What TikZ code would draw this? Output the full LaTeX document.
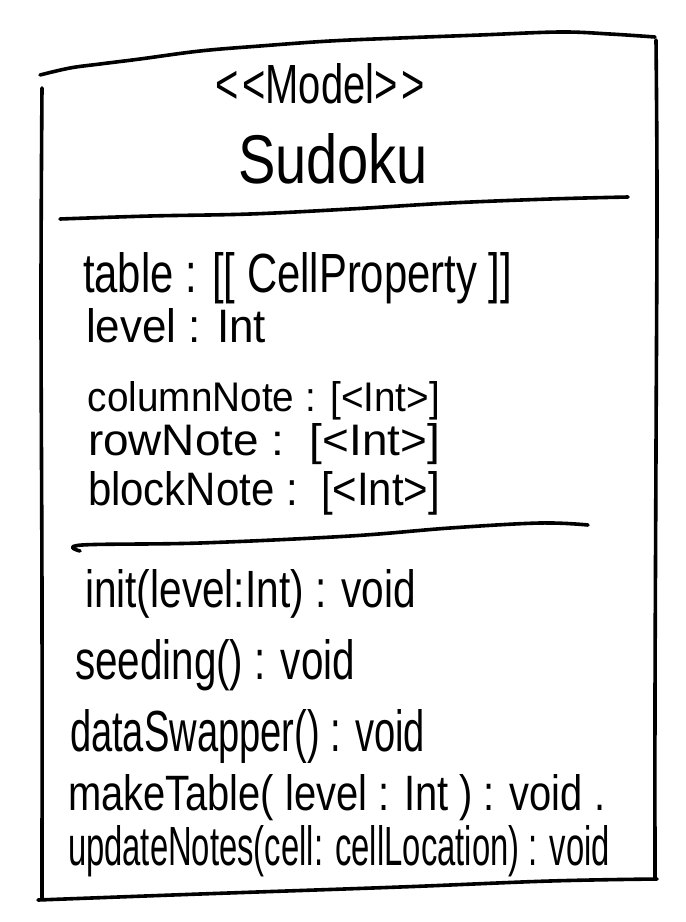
\documentclass[tikz,border=0pt]{standalone}
\usepackage{fontspec}
\usepackage{graphicx}
\setmainfont{Liberation Sans}
\begin{document}
\begin{tikzpicture}[x=1pt,y=-1pt,
  ink/.style={line width=3.6pt, line cap=round, line join=round, black},
  txt/.style={anchor=base west, inner sep=0pt, outer sep=0pt}]
\useasboundingbox[fill=white] (0,0) rectangle (686,922);

% class box outline (hand-drawn strokes)
\draw[ink] plot[smooth, tension=0.6] coordinates {(40,75) (70,68) (100,64) (140,59) (200,51) (260,46) (330,41) (400,38) (480,35) (560,32) (610,34) (655,37)};
\draw[ink] plot[smooth, tension=0.6] coordinates {(656,40) (657,200) (656,450) (655,700) (655,878)};
\draw[ink] plot[smooth, tension=0.6] coordinates {(42,88) (41,300) (42,600) (42,898)};
\draw[ink] plot[smooth, tension=0.6] coordinates {(38,900) (200,894) (400,887) (550,881) (657,879)};

% compartment separators
\draw[ink] plot[smooth, tension=0.6] coordinates {(60,219) (150,216) (250,214) (350,209) (450,203) (550,199) (628,197)};
\draw[ink] plot[smooth, tension=0.6] coordinates {(80,551) (82,545) (200,543) (350,536) (450,528) (540,523) (588,525)};

% name compartment
\node[txt] (stereo) at (215,103) {\resizebox{210pt}{40pt}{<\kern1pt<Model>\kern1pt>}};
\node[txt] (name) at (238,183) {\resizebox{190pt}{50pt}{Sudoku}};

% attributes
\node[txt] (a1) at (83,292) {\resizebox{429pt}{40pt}{table : [[ CellProperty ]]}};
\node[txt] (a2) at (86,342) {\resizebox{180pt}{34pt}{level : Int}};
\node[txt] (a3) at (88,411) {\resizebox{352pt}{30pt}{columnNote : [<Int>]}};
\node[txt] (a4) at (88,455) {\resizebox{352pt}{32pt}{rowNote :\ \ [<Int>]}};
\node[txt] (a5) at (88,505) {\resizebox{352pt}{34pt}{blockNote :\ \ [<Int>]}};

% operations
\node[txt] (m1) at (85,607) {\resizebox{331pt}{38pt}{init(level:Int) : void}};
\node[txt] (m2) at (75,679) {\resizebox{280pt}{40pt}{seeding() : void}};
\node[txt] (m3) at (70,751) {\resizebox{355pt}{42pt}{dataSwapper() : void}};
\node[txt] (m4) at (68,810) {\resizebox{537pt}{36pt}{makeTable( level : Int ) : void .}};
\node[txt] (m5) at (68,865) {\resizebox{542pt}{40pt}{updateNotes(cell: cellLocation) : void}};
\end{tikzpicture}
\end{document}
